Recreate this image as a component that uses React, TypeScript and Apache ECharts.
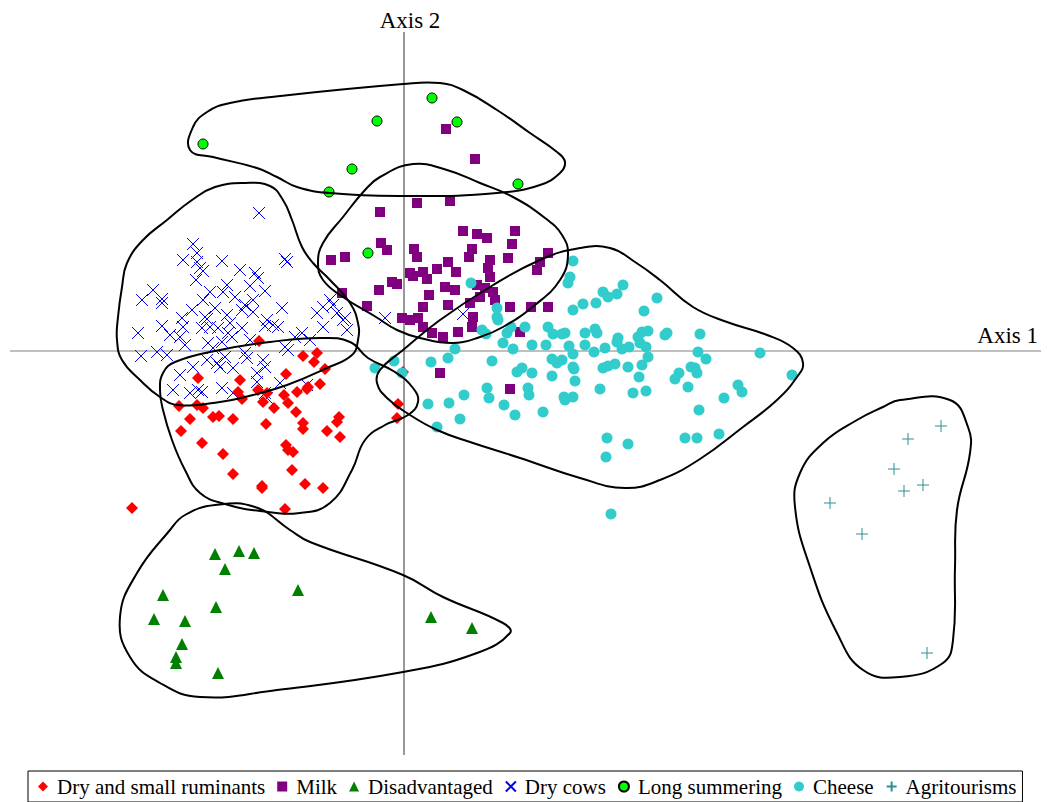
import React, { useEffect, useRef } from "react";
import * as echarts from "echarts";

// Plane extent in factor-score units (x = Axis 1, y = Axis 2)
const X_RANGE = [-4.04, 6.5];
const Y_RANGE = [-4.51, 3.51];
const AXIS1_LINE = [[-3.94, 0], [6.37, 0]];
const AXIS2_LINE = [[0, 3.19], [0, -4.04]];

const DRY_SMALL_RUMINANTS = [
  [-1.45, 0.10], [-1.01, -0.05], [-0.87, -0.02], [-0.90, -0.11], [-0.79, -0.18], [-0.84, -0.33],
  [-1.18, -0.23], [-2.06, -0.27], [-1.64, -0.29], [-1.66, -0.41], [-1.62, -0.48], [-1.46, -0.39],
  [-1.37, -0.42], [-1.41, -0.51], [-1.30, -0.57], [-1.20, -0.44], [-1.16, -0.52], [-1.07, -0.41],
  [-0.97, -0.38], [-0.96, -0.36], [-1.08, -0.61], [-2.25, -0.55], [-2.07, -0.54], [-2.01, -0.57],
  [-2.14, -0.68], [-2.23, -0.80], [-1.91, -0.66], [-1.85, -0.65], [-1.71, -0.68], [-1.38, -0.73],
  [-1.01, -0.72], [-1.01, -0.78], [-0.77, -0.80], [-0.67, -0.71], [-0.65, -0.66], [-0.64, -0.86],
  [-2.02, -0.92], [-1.81, -1.03], [-1.18, -0.94], [-1.16, -0.99], [-1.11, -1.01], [-1.71, -1.23],
  [-1.12, -1.19], [-1.42, -1.35], [-1.42, -1.37], [-0.99, -1.33], [-0.81, -1.37], [-2.72, -1.57],
  [-1.19, -1.58], [-0.01, -0.21], [-0.06, -0.53], [-0.07, -0.67],
];

const MILK = [
  [0.42, 2.22], [0.71, 1.92], [0.13, 1.48], [0.46, 1.50], [-0.24, 1.39], [-0.23, 1.08],
  [-0.17, 1.01], [0.10, 1.02], [0.13, 0.94], [-0.73, 0.91], [-0.59, 0.94], [0.44, 0.89],
  [0.06, 0.78], [0.19, 0.79], [0.33, 0.82], [0.52, 0.79], [0.09, 0.75], [0.23, 0.72],
  [-0.12, 0.69], [-0.07, 0.67], [0.41, 0.64], [0.51, 0.61], [-0.25, 0.61], [-0.62, 0.58],
  [0.25, 0.56], [-0.37, 0.45], [0.19, 0.44], [0.44, 0.46], [-0.02, 0.33], [0.06, 0.31],
  [0.14, 0.33], [0.19, 0.24], [0.28, 0.18], [0.39, 0.14], [0.54, 0.19], [0.59, 1.20],
  [0.73, 1.17], [0.83, 1.13], [1.11, 1.20], [1.08, 1.07], [0.68, 1.02], [0.65, 0.94],
  [0.86, 0.91], [1.04, 0.93], [1.44, 0.98], [1.36, 0.89], [1.33, 0.81], [0.84, 0.83],
  [0.86, 0.74], [0.73, 0.66], [0.81, 0.63], [0.89, 0.59], [0.91, 0.51], [0.76, 0.54],
  [0.66, 0.48], [0.69, 0.34], [0.68, 0.24], [1.06, 0.44], [1.27, 0.44], [1.44, 0.44],
  [1.16, 0.19], [0.36, -0.22], [1.06, -0.38],
];

const DISADVANTAGED = [
  [-1.89, -2.03], [-1.65, -2.00], [-1.50, -2.02], [-1.79, -2.18], [-1.06, -2.39], [-2.41, -2.44],
  [-1.88, -2.56], [-2.50, -2.68], [-2.19, -2.70], [-2.22, -2.93], [-2.28, -3.06], [-2.28, -3.12],
  [-1.86, -3.22], [0.27, -2.66], [0.68, -2.77],
];

const DRY_COWS = [
  [-1.45, 1.38], [-2.11, 1.07], [-2.07, 0.98], [-2.21, 0.91], [-2.07, 0.89], [-1.82, 0.90],
  [-1.19, 0.92], [-1.17, 0.89], [-2.04, 0.83], [-2.01, 0.80], [-1.64, 0.81], [-1.49, 0.78],
  [-2.08, 0.71], [-1.46, 0.73], [-2.51, 0.61], [-2.62, 0.51], [-2.42, 0.52], [-2.42, 0.48],
  [-1.77, 0.66], [-1.81, 0.59], [-1.94, 0.59], [-1.54, 0.65], [-1.39, 0.60], [-1.69, 0.54],
  [-2.01, 0.51], [-1.51, 0.51], [-1.59, 0.46], [-1.22, 0.43], [-2.12, 0.41], [-1.89, 0.43],
  [-1.62, 0.41], [-1.51, 0.39], [-0.87, 0.38], [-1.99, 0.34], [-1.97, 0.32], [-1.77, 0.36],
  [-1.74, 0.28], [-2.22, 0.33], [-2.21, 0.24], [-2.42, 0.25], [-2.66, 0.18], [-2.34, 0.16],
  [-2.24, 0.14], [-2.02, 0.23], [-1.94, 0.24], [-1.86, 0.23], [-1.76, 0.18], [-1.72, 0.14],
  [-1.62, 0.23], [-1.37, 0.31], [-1.31, 0.26], [-1.26, 0.24], [-1.39, 0.25], [-0.81, 0.24],
  [-0.67, 0.38], [-0.61, 0.31], [-0.57, 0.21], [-0.74, 0.51], [-2.19, 0.06], [-1.96, 0.08],
  [-1.91, 0.03], [-1.82, 0.09], [-1.54, 0.11], [-1.02, 0.18], [-0.94, 0.11], [-1.09, 0.14],
  [-1.19, 0.04], [-1.16, 0.01], [-2.47, -0.01], [-2.37, -0.04], [-2.63, -0.05], [-1.59, -0.02],
  [-1.57, -0.07], [-1.79, -0.06], [-1.97, -0.09], [-1.41, -0.09], [-1.39, -0.16], [-2.11, -0.16],
  [-2.24, -0.24], [-1.84, -0.16], [-1.71, -0.17], [-1.47, -0.22], [-2.31, -0.39], [-2.14, -0.42],
  [-2.06, -0.39], [-2.02, -0.41], [-1.82, -0.37], [-1.71, -0.42], [-1.87, -0.12], [-1.47, -0.31],
  [-1.39, -0.42], [-1.37, -0.47], [-1.24, -0.32], [-0.97, -0.34], [-0.81, 0.44], [-0.71, 0.46],
  [-0.59, 0.33], [-0.19, 0.33], [0.59, 0.37],
];

const LONG_SUMMERING = [
  [-2.01, 2.07], [-0.27, 2.30], [0.28, 2.53], [0.53, 2.29], [-0.52, 1.82], [-0.75, 1.59],
  [1.14, 1.67], [-0.36, 0.98],
];

const CHEESE = [
  [1.69, 0.90], [1.66, 0.74], [1.64, 0.68], [2.19, 0.66], [1.99, 0.59], [2.04, 0.54],
  [2.13, 0.57], [2.53, 0.53], [1.69, 0.41], [1.79, 0.47], [1.92, 0.48], [2.40, 0.40],
  [1.61, 0.18], [1.81, 0.18], [1.91, 0.22], [1.93, 0.18], [2.14, 0.13], [2.13, 0.09],
  [2.34, 0.14], [2.38, 0.19], [2.44, 0.20], [2.36, 0.08], [2.42, 0.04], [2.61, 0.16],
  [2.63, 0.18], [2.96, 0.17], [1.65, 0.05], [1.81, 0.06], [1.69, -0.03], [1.90, -0.01],
  [2.01, 0.03], [2.18, 0.02], [2.25, 0.04], [2.94, -0.01], [3.56, -0.02], [3.02, -0.08],
  [2.44, -0.06], [1.58, -0.09], [1.69, -0.16], [1.70, -0.18], [1.99, -0.17], [2.04, -0.15],
  [2.11, -0.13], [2.24, -0.16], [2.38, -0.14], [2.35, -0.26], [1.71, -0.30], [2.87, -0.16],
  [2.91, -0.17], [2.93, -0.22], [2.75, -0.22], [2.71, -0.28], [2.84, -0.36], [3.88, -0.24],
  [3.34, -0.34], [3.38, -0.41], [1.96, -0.38], [2.29, -0.42], [2.42, -0.40], [1.60, -0.46],
  [1.69, -0.46], [3.20, -0.47], [2.95, -0.59], [2.03, -0.87], [2.24, -0.93], [2.81, -0.87],
  [2.93, -0.87], [3.15, -0.83], [2.02, -1.06], [2.07, -1.63],
  [-0.29, -0.17], [-0.10, -0.10], [-0.02, -0.22], [0.27, -0.11], [0.44, -0.07], [0.51, 0.02],
  [0.78, 0.21], [0.82, 0.17], [0.94, 0.31], [0.99, 0.08], [1.03, 0.18], [1.09, 0.02],
  [1.21, 0.24], [1.28, 0.06], [1.42, 0.06], [1.44, 0.24], [1.49, 0.17], [1.58, 0.17],
  [0.88, -0.10], [1.13, -0.21], [1.18, -0.17], [1.28, -0.22], [1.48, -0.08], [1.53, -0.12],
  [1.48, -0.25], [0.83, -0.37], [0.85, -0.47], [1.24, -0.37], [1.25, -0.44], [1.61, -0.49],
  [0.60, -0.44], [0.45, -0.52], [0.24, -0.53], [1.00, -0.54], [1.11, -0.64], [1.39, -0.61],
  [0.56, -0.68], [0.33, -0.76], [0.67, 0.68], [0.93, 0.43], [0.93, 0.34], [1.07, 0.24],
];

const AGRITOURISMS = [
  [5.37, -0.75], [5.04, -0.88], [4.90, -1.18], [5.19, -1.34], [5.00, -1.40], [4.26, -1.52],
  [4.58, -1.83], [5.23, -3.02],
];

// Group envelopes, traced as closed outlines
const HULL_LONG_SUMMERING = [
  [-2.14, 2.01], [-2.11, 2.24], [-1.97, 2.39], [-1.74, 2.48], [-1.24, 2.55], [-0.01, 2.67],
  [0.36, 2.68], [0.59, 2.61], [0.93, 2.41], [1.26, 2.18], [1.53, 1.99], [1.61, 1.89],
  [1.56, 1.78], [1.36, 1.66], [0.93, 1.58], [0.09, 1.55], [-0.74, 1.58], [-1.07, 1.64],
  [-1.27, 1.74], [-1.47, 1.83], [-1.91, 1.94],
];
const HULL_DRY_COWS = [
  [-2.12, 1.51], [-1.89, 1.64], [-1.59, 1.68], [-1.34, 1.65], [-1.21, 1.51], [-1.12, 1.31],
  [-1.02, 1.04], [-0.91, 0.88], [-0.74, 0.71], [-0.54, 0.48], [-0.46, 0.28], [-0.46, 0.11],
  [-0.52, -0.04], [-0.77, -0.17], [-1.17, -0.34], [-1.51, -0.44], [-1.84, -0.51], [-2.26, -0.54],
  [-2.44, -0.46], [-2.64, -0.29], [-2.82, -0.09], [-2.87, 0.11], [-2.86, 0.34], [-2.82, 0.64],
  [-2.77, 0.88], [-2.61, 1.11], [-2.37, 1.31],
];
const HULL_DRY_SMALL = [
  [-2.41, -0.22], [-2.29, -0.11], [-1.84, 0.01], [-1.34, 0.09], [-0.84, 0.13], [-0.54, 0.09],
  [-0.36, -0.07], [-0.09, -0.21], [0.09, -0.37], [0.14, -0.51], [0.04, -0.64], [-0.19, -0.74],
  [-0.39, -0.89], [-0.52, -1.19], [-0.74, -1.52], [-1.04, -1.62], [-1.44, -1.60], [-1.79, -1.53],
  [-2.04, -1.42], [-2.19, -1.19], [-2.32, -0.89], [-2.41, -0.59], [-2.44, -0.39],
];
const HULL_MILK = [
  [-0.39, 1.61], [-0.61, 1.34], [-0.81, 1.08], [-0.86, 0.88], [-0.81, 0.71], [-0.61, 0.54],
  [-0.28, 0.34], [-0.07, 0.21], [0.16, 0.13], [0.49, 0.08], [0.76, 0.14], [0.99, 0.24],
  [1.31, 0.46], [1.56, 0.71], [1.64, 0.96], [1.58, 1.16], [1.41, 1.33], [1.09, 1.54],
  [0.76, 1.68], [0.43, 1.81], [0.09, 1.87], [-0.24, 1.74],
];
const HULL_CHEESE = [
  [-0.01, 0.01], [0.36, 0.31], [0.86, 0.64], [1.36, 0.91], [1.76, 1.03], [2.06, 1.03],
  [2.31, 0.89], [2.56, 0.71], [2.89, 0.44], [3.23, 0.29], [3.63, 0.16], [3.89, 0.03],
  [3.99, -0.12], [3.93, -0.26], [3.73, -0.49], [3.39, -0.76], [2.96, -1.08], [2.56, -1.29],
  [2.21, -1.37], [1.76, -1.27], [1.16, -1.07], [0.66, -0.91], [0.33, -0.79], [0.06, -0.64],
  [-0.17, -0.47], [-0.27, -0.32], [-0.24, -0.19],
];
const HULL_DISADVANTAGED = [
  [-2.34, -1.79], [-2.67, -2.22], [-2.84, -2.66], [-2.74, -3.06], [-2.44, -3.32], [-2.04, -3.46],
  [-1.27, -3.39], [-0.01, -3.21], [0.73, -3.02], [1.06, -2.82], [0.99, -2.72], [0.39, -2.46],
  [-0.01, -2.24], [-0.94, -1.91], [-1.14, -1.79], [-1.49, -1.56], [-1.89, -1.54], [-2.19, -1.64],
];
const HULL_AGRITOURISMS = [
  [4.96, -0.49], [5.46, -0.49], [5.64, -0.76], [5.66, -1.02], [5.53, -1.59], [5.51, -2.16],
  [5.49, -2.89], [5.39, -3.12], [4.96, -3.26], [4.59, -3.19], [4.33, -2.82], [4.06, -2.16],
  [3.91, -1.56], [3.96, -1.22], [4.19, -0.92], [4.53, -0.69], [4.79, -0.56],
];
const HULLS = [
  HULL_LONG_SUMMERING, HULL_DRY_COWS, HULL_DRY_SMALL, HULL_MILK,
  HULL_CHEESE, HULL_DISADVANTAGED, HULL_AGRITOURISMS,
];

const LEGEND_ORDER = [
  "Dry and small ruminants", "Milk", "Disadvantaged", "Dry cows",
  "Long summering", "Cheese", "Agritourisms",
];

const SERIF = "Liberation Serif";
const CROSS = "path://M0,0L10,10M10,0L0,10";
const PLUS = "path://M5,0L5,10M0,5L10,5";

export default function App() {
  const ref = useRef<HTMLDivElement>(null);

  useEffect(() => {
    const chart = echarts.init(ref.current as HTMLDivElement, undefined, { renderer: "svg" });

    const scatter = (name: string, data: number[][], symbol: string, size: number, itemStyle: any, z: number) => ({
      type: "scatter",
      name,
      data,
      symbol,
      symbolSize: size,
      itemStyle: { opacity: 1, ...itemStyle },
      z,
      silent: true,
      emphasis: { disabled: true },
    });

    chart.setOption({
      animation: false,
      textStyle: { fontFamily: SERIF },
      grid: { left: 0, right: 0, top: 0, bottom: 0 },
      xAxis: { type: "value", min: X_RANGE[0], max: X_RANGE[1], show: false },
      yAxis: { type: "value", min: Y_RANGE[0], max: Y_RANGE[1], show: false },
      legend: {
        data: LEGEND_ORDER,
        left: 28,
        top: 771,
        orient: "horizontal",
        padding: [5, 6, 5, 10],
        itemWidth: 10,
        itemHeight: 10,
        itemGap: 12,
        borderColor: "#000",
        borderWidth: 1,
        borderRadius: 0,
        selectedMode: false,
        textStyle: { fontFamily: SERIF, fontSize: 21, color: "#000", padding: [0, 0, 0, 4] },
      },
      graphic: [
        {
          type: "text",
          x: 410,
          y: 20,
          style: { text: "Axis 2", fontFamily: SERIF, fontSize: 23, fill: "#000", align: "center", verticalAlign: "middle" },
        },
        {
          type: "text",
          x: 1038,
          y: 335,
          style: { text: "Axis 1", fontFamily: SERIF, fontSize: 23, fill: "#000", align: "right", verticalAlign: "middle" },
        },
      ],
      series: [
        {
          type: "line",
          data: AXIS1_LINE,
          symbol: "none",
          silent: true,
          lineStyle: { color: "#808080", width: 1 },
          z: 1,
        },
        {
          type: "line",
          data: AXIS2_LINE,
          symbol: "none",
          silent: true,
          lineStyle: { color: "#333", width: 1 },
          z: 1,
        },
        {
          type: "custom",
          silent: true,
          z: 3,
          encode: { x: 0, y: 1 },
          data: HULLS.map((h, i) => [h[0][0], h[0][1], i]),
          renderItem: (_params: any, api: any) => {
            const hull = HULLS[api.value(2)];
            return {
              type: "polygon",
              shape: { points: hull.map((p) => api.coord(p)), smooth: 0.45 },
              style: { fill: "none", stroke: "#000", lineWidth: 2 },
            };
          },
        },
        scatter("Dry cows", DRY_COWS, CROSS, 12, { color: "transparent", borderColor: "#0000ff", borderWidth: 1 }, 2),
        scatter("Dry and small ruminants", DRY_SMALL_RUMINANTS, "diamond", 12, { color: "#ff0000" }, 2),
        scatter("Milk", MILK, "rect", 10, { color: "#800080" }, 2),
        scatter("Cheese", CHEESE, "circle", 11, { color: "#33cccc" }, 2),
        scatter("Long summering", LONG_SUMMERING, "circle", 10, { color: "#00ff00", borderColor: "#000", borderWidth: 1 }, 2),
        scatter("Disadvantaged", DISADVANTAGED, "triangle", 12, { color: "#008000" }, 2),
        scatter("Agritourisms", AGRITOURISMS, PLUS, 12, { color: "transparent", borderColor: "#2a9090", borderWidth: 1 }, 2),
      ],
    });

    return () => chart.dispose();
  }, []);

  return <div ref={ref} style={{ position: "absolute", left: 0, top: 0, width: 1054, height: 802 }} />;
}
